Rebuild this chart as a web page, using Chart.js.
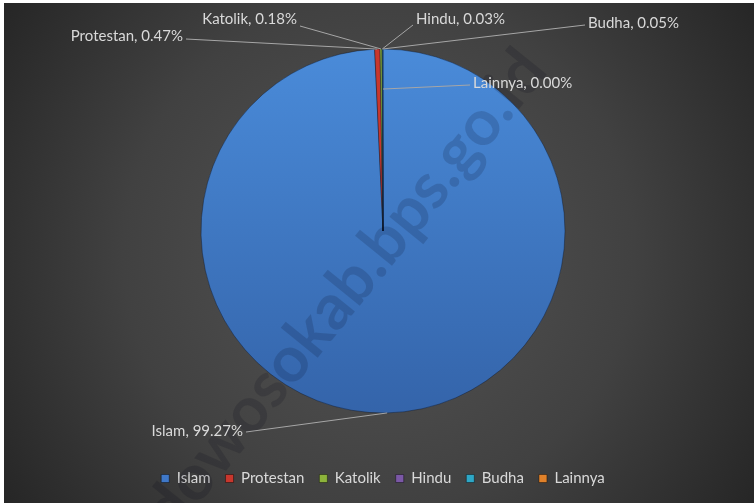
<!DOCTYPE html>
<html>
<head>
<meta charset="utf-8">
<script src="https://cdn.jsdelivr.net/npm/chart.js@4.4.0/dist/chart.umd.min.js"></script>
<style>
html, body { margin: 0; padding: 0; background: #ffffff; overflow: hidden; }
#wrap { position: absolute; left: 4px; top: 3px; width: 750px; height: 500px; }
</style>
</head>
<body>
<div id="wrap"><canvas id="religionChart"></canvas></div>
<script>
// Religion share (%)
const religions = ['Islam', 'Protestan', 'Katolik', 'Hindu', 'Budha', 'Lainnya'];
const shares = [99.27, 0.47, 0.18, 0.03, 0.05, 0.00];
const sliceColors = ['#3f78c8', '#c8372d', '#8db33b', '#7b58a6', '#2ea7c6', '#e0812a'];

// where each data label sits, relative to the pie centre
const labelSpots = [
    { dx: -140, dy: 200, side: 'right', lineDy: 1, inset: 0 },
    { dx: -200, dy: -195, side: 'right', lineDy: 3, inset: 0 },
    { dx: -86, dy: -212, side: 'right', lineDy: 7, inset: 0 },
    { dx: 33, dy: -212, side: 'left', lineDy: 6, inset: 0 },
    { dx: 205, dy: -208, side: 'left', lineDy: 2, inset: 0 },
    { dx: 90, dy: -148, side: 'left', lineDy: 2, inset: 0.22 }
];

const FONT = 'Lato, "Liberation Sans", sans-serif';

const backdrop = {
    id: 'backdrop',
    beforeDraw(chart) {
        const { ctx, width, height } = chart;
        const g = ctx.createRadialGradient(width / 2, height / 2, 0, width / 2, height / 2, width * 0.62);
        g.addColorStop(0, '#555555');
        g.addColorStop(0.55, '#414141');
        g.addColorStop(1, '#242424');
        ctx.save();
        ctx.fillStyle = g;
        ctx.fillRect(0, 0, width, height);
        ctx.restore();
    }
};

const pieLabels = {
    id: 'pieLabels',
    afterDatasetsDraw(chart) {
        const { ctx } = chart;
        const meta = chart.getDatasetMeta(0);
        const first = meta.data[0];
        const cx = first.x, cy = first.y;

        // watermark
        ctx.save();
        ctx.translate(cx - 72, cy + 102);
        ctx.rotate(-51 * Math.PI / 180);
        ctx.font = 'bold 64px ' + FONT;
        ctx.fillStyle = 'rgba(0, 0, 20, 0.15)';
        ctx.textAlign = 'center';
        ctx.textBaseline = 'middle';
        ctx.fillText('bondowosokab.bps.go.id', 0, 0);
        ctx.restore();

        ctx.save();
        ctx.font = '15px ' + FONT;
        ctx.textBaseline = 'middle';
        meta.data.forEach((arc, i) => {
            const spot = labelSpots[i];
            const p = arc.getProps(['x', 'y', 'startAngle', 'endAngle', 'outerRadius'], true);
            const mid = (p.startAngle + p.endAngle) / 2;
            const r = p.outerRadius * (1 - spot.inset);
            const ex = p.x + Math.cos(mid) * r;
            const ey = p.y + Math.sin(mid) * r;
            const text = religions[i] + ', ' + shares[i].toFixed(2) + '%';
            const tx = cx + spot.dx;
            const ty = cy + spot.dy;
            const sx = spot.side === 'right' ? tx + 3 : tx - 3;

            ctx.strokeStyle = '#a6a6a6';
            ctx.lineWidth = 1;
            ctx.beginPath();
            ctx.moveTo(sx, ty + spot.lineDy);
            ctx.lineTo(ex, ey);
            ctx.stroke();

            ctx.fillStyle = '#d9d9d9';
            ctx.textAlign = spot.side;
            ctx.fillText(text, tx, ty);
        });
        ctx.restore();
    }
};

const ctx = document.getElementById('religionChart').getContext('2d');
const religionChart = new Chart(ctx, {
    type: 'pie',
    data: {
        labels: religions,
        datasets: [{
            data: shares,
            backgroundColor: (c) => {
                const area = c.chart.chartArea;
                if (c.dataIndex !== 0 || !area) return sliceColors[c.dataIndex];
                const cy = (area.top + area.bottom) / 2;
                const g = c.chart.ctx.createLinearGradient(0, cy - 182, 0, cy + 182);
                g.addColorStop(0, '#4a8bd9');
                g.addColorStop(1, '#3464aa');
                return g;
            },
            borderColor: 'rgba(10, 20, 40, 0.4)',
            borderWidth: 1
        }]
    },
    options: {
        responsive: true,
        maintainAspectRatio: false,
        animation: false,
        radius: 182,
        layout: {
            padding: { top: 3, left: 8, right: 0, bottom: 7 }
        },
        plugins: {
            legend: {
                display: true,
                position: 'bottom',
                labels: {
                    boxWidth: 8,
                    boxHeight: 8,
                    padding: 15,
                    color: '#d9d9d9',
                    font: { family: FONT, size: 15 },
                    generateLabels: (chart) => religions.map((name, i) => ({
                        text: name,
                        fillStyle: sliceColors[i],
                        strokeStyle: 'rgba(0,0,0,0.4)',
                        lineWidth: 1,
                        borderRadius: 0,
                        fontColor: '#d9d9d9',
                        index: i
                    }))
                }
            },
            tooltip: { enabled: false }
        }
    },
    plugins: [backdrop, pieLabels]
});
</script>
</body>
</html>
